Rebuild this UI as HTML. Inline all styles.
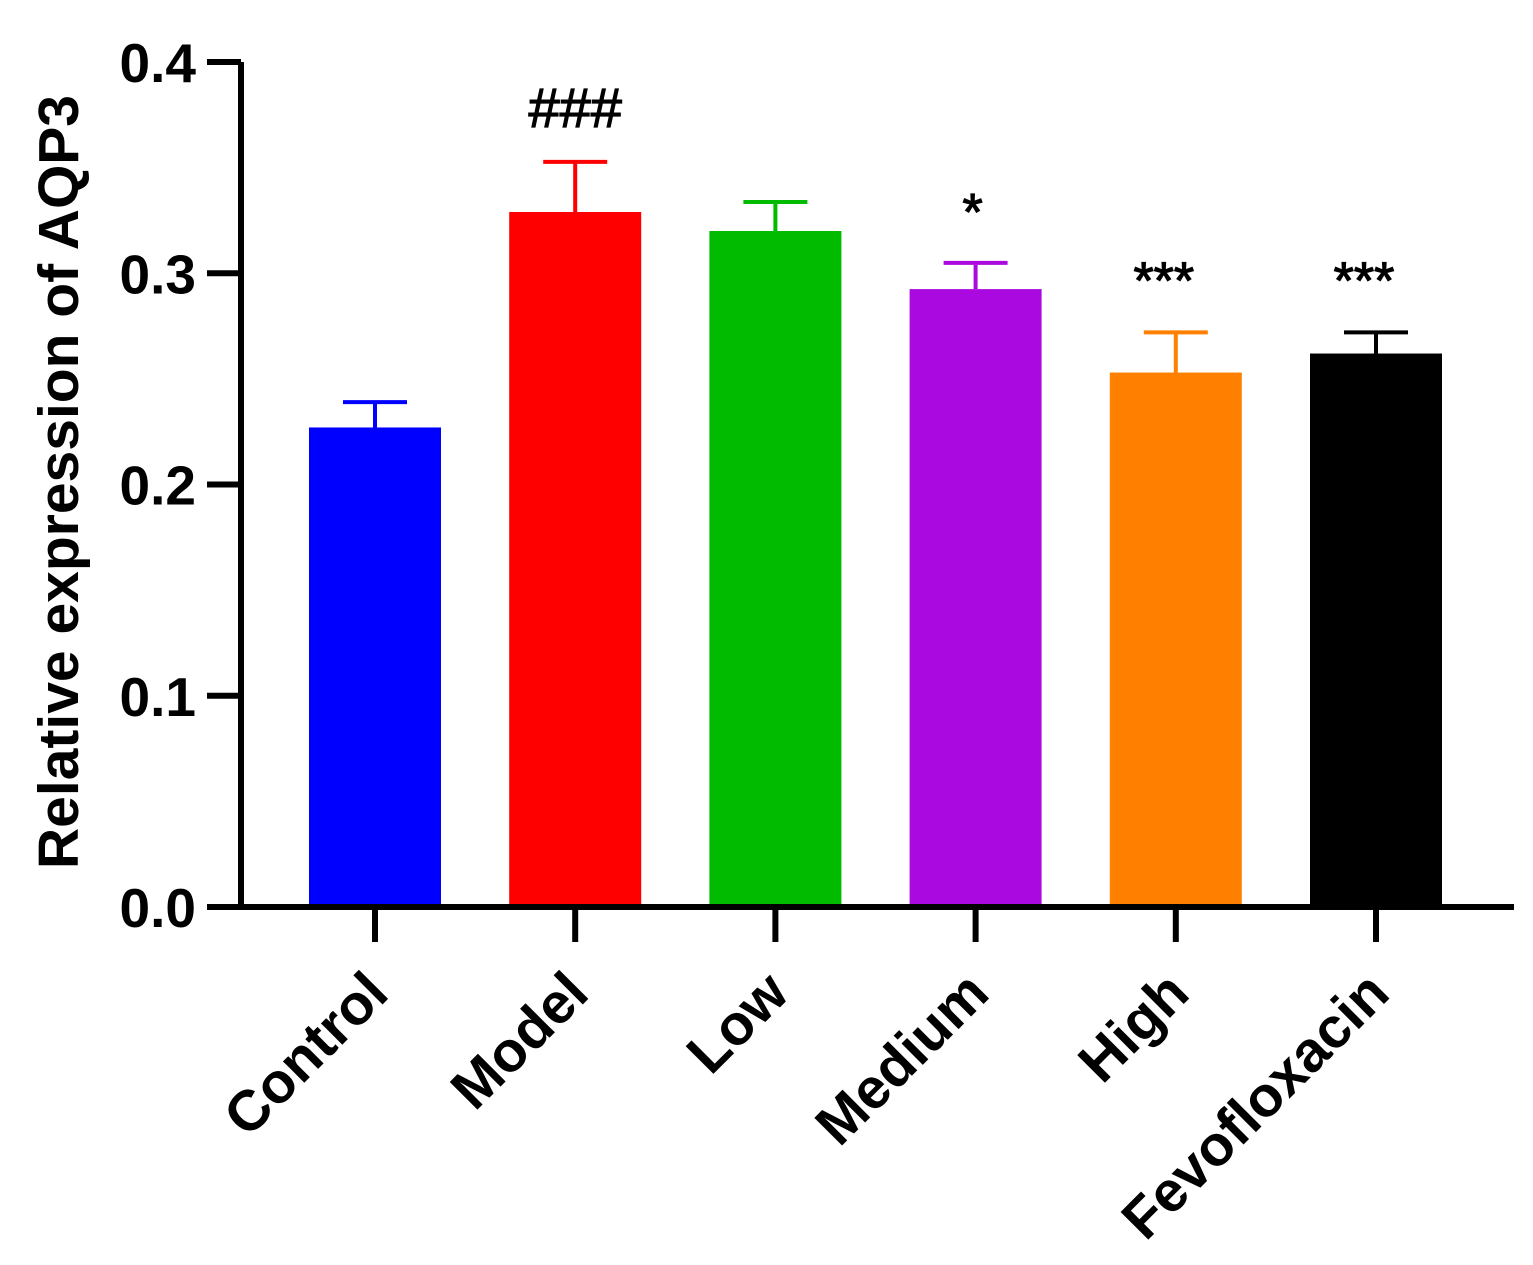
<!DOCTYPE html>
<html><head><meta charset="utf-8"><style>
html,body{margin:0;padding:0;background:#fff;}
svg{display:block;font-family:"Liberation Sans",Arial,sans-serif;font-weight:bold;}
</style></head><body>
<svg id="chart" width="1533" height="1265" viewBox="0 0 1533 1265"></svg>
<script>
const categories=["Control","Model","Low","Medium","High","Fevofloxacin"];
const means=[0.227,0.329,0.320,0.2925,0.253,0.262];
const errs=[0.012,0.0237,0.0137,0.0124,0.019,0.010];
const colors=["#0000ff","#ff0000","#00bb00","#aa0ae0","#ff8000","#000000"];
const marks=["","###","","*","***","***"];
const yTicks=[0.0,0.1,0.2,0.3,0.4];
const yTickLabels=["0.0","0.1","0.2","0.3","0.4"];

const NS="http://www.w3.org/2000/svg";
const svg=document.getElementById('chart');
const y0=907,pxPer=2112.5;
const y=v=>y0-v*pxPer;
const x=i=>375+i*200.2;
function mk(t,a){const e=document.createElementNS(NS,t);for(const k in a)e.setAttribute(k,a[k]);svg.appendChild(e);return e;}

categories.forEach((c,i)=>{
  const cx=x(i);
  const b=mk('rect',{x:cx-66,y:y(means[i]),width:132,height:y0-y(means[i]),fill:colors[i]});
  
  
  const top=y(means[i]+errs[i]);
  const l=mk('path',{d:`M${cx} ${y(means[i])}V${top}M${cx-32} ${top}H${cx+32}`,stroke:colors[i],'stroke-width':4,fill:'none'});
  
  
  if(marks[i]){
    const isHash=marks[i]==='###', isOne=marks[i]==='*';
    const t=mk('text',{x:cx-(isHash?0:(isOne?3:12)),y:isHash?top-35:(isOne?top-33:top-34),'text-anchor':'middle','font-size':isHash?56:52,'font-weight':'normal',fill:'#000',stroke:'#000','stroke-width':1.2});
    t.textContent=marks[i];
    
    
  }
  const tk=mk('line',{x1:cx,y1:y0,x2:cx,y2:942,stroke:'#000','stroke-width':6});
  
  
  const lb=mk('text',{x:0,y:0,'text-anchor':'end','font-size':57,fill:'#000',transform:`translate(${cx+16},${996}) rotate(-45)`});
  lb.textContent=c;
  
  
});

yTicks.forEach((v,i)=>{
  const tk=mk('line',{x1:207,y1:y(v),x2:241,y2:y(v),stroke:'#000','stroke-width':6});
  
  
  const t=mk('text',{x:196,y:y(v)+20,'text-anchor':'end','font-size':55,fill:'#000'});
  t.textContent=yTickLabels[i];
  
  
});
const ax=mk('path',{d:`M241 ${y(0.4)}V${y0}H1514`,stroke:'#000','stroke-width':6,fill:'none'});


const yt=mk('text',{x:0,y:0,'text-anchor':'middle','font-size':57,fill:'#000',transform:'translate(78,482) rotate(-90)'});
yt.textContent='Relative expression of AQP3';


</script>
</body></html>
